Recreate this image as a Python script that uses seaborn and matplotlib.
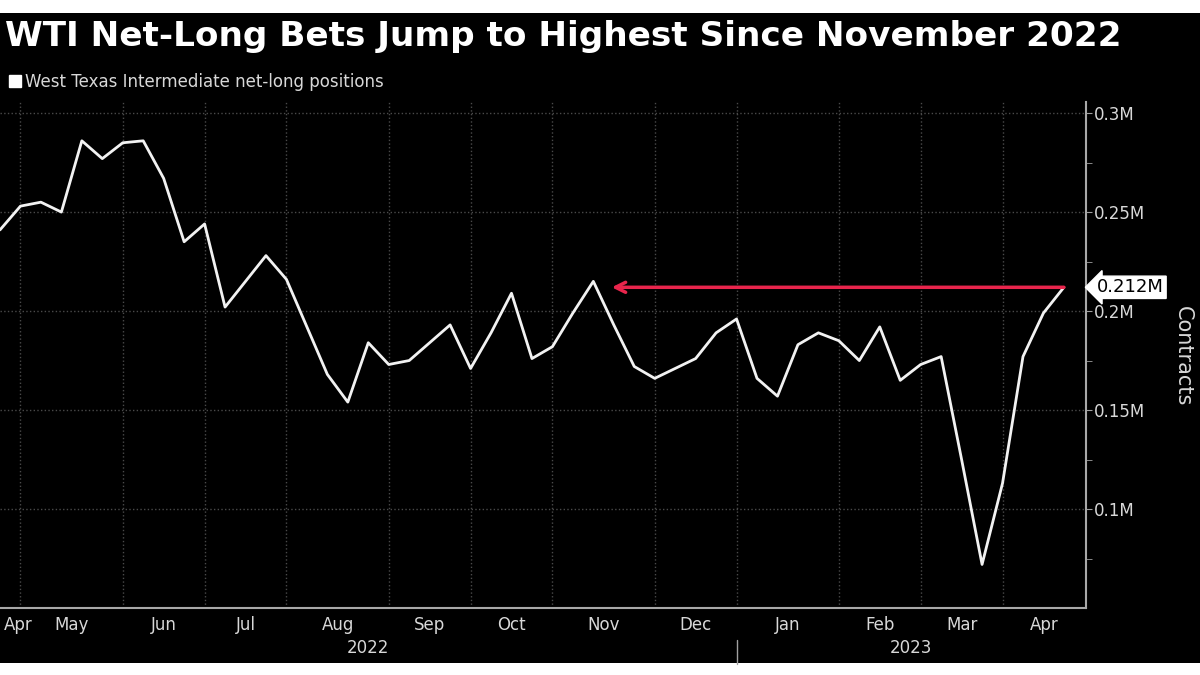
import numpy as np
import pandas as pd
import matplotlib
matplotlib.use('Agg')
import matplotlib.pyplot as plt
import matplotlib.transforms as mtransforms
from matplotlib.patches import Rectangle, Patch
from matplotlib.ticker import FuncFormatter
import seaborn as sns

# --- data: weekly WTI net-long positions (thousand contracts), first week 2022-04-26 ---
week_start = '2022-04-26'
net_long_k = [241, 253, 255, 250, 286, 277, 285, 286, 267, 235,
              244, 202, 215, 228, 216, 192, 168, 154, 184, 173,
              175, 184, 193, 171, 189, 209, 176, 182, 199, 215,
              193, 172, 166, 171, 176, 189, 196, 166, 157, 183,
              189, 185, 175, 192, 165, 173, 177, 125, 72, 113,
              177, 199, 212]
latest_label = '0.212M'
y_ticks = [100000, 150000, 200000, 250000, 300000]
y_minor = [75000, 125000, 175000, 225000, 275000]
title = 'WTI Net-Long Bets Jump to Highest Since November 2022'
legend_label = 'West Texas Intermediate net-long positions'
y_label = 'Contracts'

weeks = pd.date_range(week_start, periods=len(net_long_k), freq='7D')
df = pd.DataFrame({'week': weeks,
                   'pos': np.arange(len(weeks)),
                   'contracts': np.array(net_long_k) * 1000})

sns.set_style('dark')
plt.rcParams['font.family'] = ['DejaVu Sans']

W, H = 1200, 675
fig = plt.figure(figsize=(12, 6.75), dpi=100, facecolor='white')
fig.patches.append(Rectangle((0, 1 - 663 / H), 1, (663 - 13) / H, transform=fig.transFigure,
                             facecolor='black', edgecolor='none', zorder=-10))
ax = fig.add_axes([0, 1 - 608 / H, 1086 / W, (608 - 102) / H])
ax.set_facecolor('black')

sns.lineplot(data=df, x='pos', y='contracts', ax=ax, color='#f2f2f2', linewidth=2, legend=False)
xmin, xmax = 0, 53.08
ax.set_xlim(xmin, xmax)
ax.set_ylim(50000, 305600)

# month boundaries = first weekly print of each month (index-based axis)
mkey = df['week'].dt.to_period('M')
starts = df.index[mkey != mkey.shift()].tolist()
bounds = [xmin] + starts[1:] + [xmax]
centers = [(a + b) / 2 for a, b in zip(bounds[:-1], bounds[1:])]
centers[0] = xmin + 0.2
labels = [p.strftime('%b') for p in mkey.iloc[starts]]
ax.set_xticks(centers, labels)
ax.set_xticks(starts[1:], minor=True)
ax.tick_params(axis='x', which='major', length=0, pad=6, labelsize=12, colors='#d8d8d8')
ax.tick_params(axis='x', which='minor', length=3, color='#a0a0a0')
ax.get_xticklabels()[0].set_ha('left')

# y axis on the right
ax.yaxis.tick_right()
ax.set_yticks(y_ticks)
ax.set_yticks(y_minor, minor=True)
ax.yaxis.set_major_formatter(FuncFormatter(lambda v, _: f'{v / 1e6:g}M'))
ax.tick_params(axis='y', which='both', direction='out', length=4, pad=2,
               labelsize=12, colors='#d8d8d8', color='#a0a0a0')
ax.set_xlabel('')
ax.set_ylabel('')

ax.grid(which='major', axis='y', color='#4a4a4a', linestyle=':', linewidth=1)
ax.grid(which='minor', axis='x', color='#4a4a4a', linestyle=':', linewidth=1)
ax.grid(which='major', axis='x', visible=False)
for s in ['left', 'top']:
    ax.spines[s].set_visible(False)
for s in ['right', 'bottom']:
    ax.spines[s].set_visible(True)
    ax.spines[s].set_color('#a8a8a8')
    ax.spines[s].set_linewidth(1.5)

# year labels and separator
trans = mtransforms.blended_transform_factory(ax.transData, ax.transAxes)
years = df['week'].dt.year
new_year = [s for s in starts if s > 0 and years[s] != years[s - 1]][0]
for yr, a, b in [(years.iloc[0], xmin, new_year), (years.iloc[-1], new_year, xmax)]:
    ax.text((a + b) / 2, -0.08, str(yr), transform=trans, ha='center', va='center',
            fontsize=12, color='#d8d8d8')
ax.plot([new_year, new_year], [-0.063, -0.11], transform=trans, color='#a0a0a0',
        linewidth=1, clip_on=False)

# arrow back to the November peak
nov = df[mkey == pd.Period('2022-11', 'M')]
nov_peak = nov['contracts'].idxmax()
last = df.iloc[-1]
ax.annotate('', xy=(nov_peak + 0.9, last['contracts']), xytext=(last['pos'], last['contracts']),
            arrowprops=dict(arrowstyle='->', color='#e8254c', lw=2.5, shrinkA=0, shrinkB=0,
                            mutation_scale=18))

# last value tag
ax.annotate(latest_label, xy=(1, last['contracts']), xycoords=('axes fraction', 'data'),
            xytext=(8, 0), textcoords='offset points', ha='left', va='center',
            fontsize=13, color='black', annotation_clip=False,
            bbox=dict(boxstyle='larrow,pad=0.12', fc='white', ec='white'))

fig.text(1183 / W, 1 - 356 / H, y_label, rotation=270, fontsize=15, color='#d8d8d8',
         ha='center', va='center')

ax.legend(handles=[Patch(facecolor='white', label=legend_label)], loc='upper left',
          bbox_to_anchor=(9 / W, 1 - 73 / H), bbox_transform=fig.transFigure, frameon=False,
          fontsize=12, handlelength=0.7, handleheight=0.7, handletextpad=0.25,
          borderpad=0, borderaxespad=0, labelcolor='#d8d8d8')

fig.text(5 / W, 1 - 46 / H, title, fontsize=24.7, fontweight='bold', color='white',
         ha='left', va='baseline')

fig.savefig('out.png', dpi=100, facecolor='white')
